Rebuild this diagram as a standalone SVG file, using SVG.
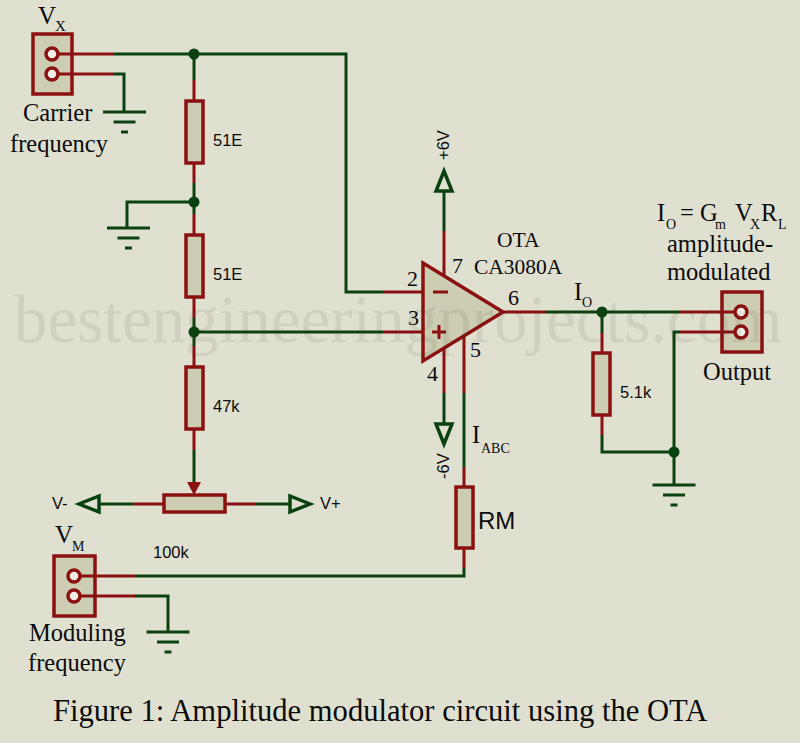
<svg xmlns="http://www.w3.org/2000/svg" width="800" height="743" viewBox="0 0 800 743">
<style>
.g{fill:none;stroke:#0a420f;stroke-width:3}
.r{fill:none;stroke:#8b1010;stroke-width:3}
.b{fill:#cdcdb4;stroke:#8b1010;stroke-width:3.5}
.p{fill:#eeeee4;stroke:#8b1010;stroke-width:3.5}
.a{fill:none;stroke:#0a420f;stroke-width:3.5;stroke-linejoin:miter}
.j{fill:#0a420f}
text{fill:#0b0b0b}
.s{font-family:"Liberation Serif",serif;font-size:24.5px}
.n{font-family:"Liberation Serif",serif;font-size:22px}
.u{font-family:"Liberation Serif",serif;font-size:14px}
.v{font-family:"Liberation Sans",sans-serif;font-size:16.5px}
.o{font-family:"Liberation Serif",serif;font-size:21.5px}
</style>
<defs>
<g id="gnd"><path class="g" d="M-21.500 0H21.500M-11 10H11M-3.500 20H3.500"/></g>
</defs>
<rect width="800" height="743" fill="#e0e0d1"/>
<g id="connectors">
<path class="g" d="M114 54H346V292H383M114 74H124V112"/>
<path class="g" d="M194 54V80M194 183V214M194 202H127V228M194 318V346M383 332H194"/>
<path class="r" d="M194 80V101M194 163V183M194 214V235M194 297V318M194 346V367M194 429V450M383 292H423M383 332H423"/>
<path class="g" d="M194 450V482"/>
<path d="M187 482H201L194 495Z" fill="#8b1010"/>
<path class="g" d="M99 504H133M256 504H290"/>
<path class="r" d="M133 504H163M225 504H256"/>
<path class="r" d="M444 276V231M444 349V393M464 337V393M464 467V487M464 548V568M504 312H545"/>
<path class="g" d="M444 231V191M444 393V423M464 393V467M464 568V576H135M135 596H168V632M545 312H680M602 312V333M602 435V452H674M680 332H674V485"/>
<path class="r" d="M602 333V353M602 415V435"/>
</g>
<g id="vx-connector">
<rect class="b" x="33" y="34" width="39" height="60"/>
<path class="r" d="M58 54H114M58 74H114"/>
<circle class="p" cx="52" cy="54" r="6"/><circle class="p" cx="52" cy="74" r="6"/>
<text class="s" x="38" y="24" style="font-size:25px">V</text><text class="u" x="55" y="31" style="font-size:15px">X</text>
<text class="s" x="23" y="121">Carrier</text>
<text class="s" x="10" y="152">frequency</text>
</g>
<g id="gnd-1"><use href="#gnd" x="124.500" y="112"/></g>
<g id="gnd-2"><use href="#gnd" x="128.500" y="228"/></g>
<g id="gnd-3"><use href="#gnd" x="168" y="632"/></g>
<g id="gnd-4"><use href="#gnd" x="674" y="485"/></g>
<g id="r1"><rect class="b" x="186" y="101" width="17" height="62"/><text class="v" x="213" y="146">51E</text></g>
<g id="r2"><rect class="b" x="186" y="235" width="17" height="62"/><text class="v" x="213" y="280">51E</text></g>
<g id="r3"><rect class="b" x="186" y="367" width="17" height="62"/><text class="v" x="213" y="412">47k</text></g>
<g id="pot"><rect class="b" x="164" y="495" width="61" height="17"/><text class="v" x="153" y="558">100k</text></g>
<g id="v-minus"><path class="a" d="M99 496V512L79 504Z"/><text class="v" x="52" y="509">V-</text></g>
<g id="v-plus"><path class="a" d="M290 496V512L310 504Z"/><text class="v" x="320" y="509">V+</text></g>
<g id="vm-connector">
<rect class="b" x="54" y="556" width="41" height="60"/>
<path class="r" d="M80 576H135M80 596H135"/>
<circle class="p" cx="74" cy="576" r="6"/><circle class="p" cx="74" cy="596" r="6"/>
<text class="s" x="55" y="543" style="font-size:25px">V</text><text class="u" x="72" y="551">M</text>
<text class="s" x="29" y="641">Moduling</text>
<text class="s" x="28" y="671">frequency</text>
</g>
<g id="rm"><rect class="b" x="456" y="487" width="17" height="61"/><text x="478" y="529" font-family="Liberation Sans,sans-serif" font-size="24">RM</text></g>
<g id="ota">
<path d="M423 263L503 312L423 361Z" fill="#cdcdb4" stroke="#8b1010" stroke-width="3.500"/>
<path class="r" d="M433 292H448M439 325V339M432 332H446"/>
<text class="n" x="407" y="286">2</text><text class="n" x="408" y="325">3</text>
<text class="n" x="452" y="273">7</text><text class="n" x="508" y="305">6</text>
<text class="n" x="470" y="357">5</text><text class="n" x="427" y="381">4</text>
<text class="o" x="497" y="247">OTA</text>
<text class="o" x="474" y="274">CA3080A</text>
</g>
<g id="plus6v"><path class="a" d="M436 191H452L444 171Z"/><text class="v" transform="translate(449 160) rotate(-90)">+6V</text></g>
<g id="minus6v"><path class="a" d="M436 424H452L444 444Z"/><text class="v" transform="translate(449 479) rotate(-90)">-6V</text></g>
<g id="iabc"><text class="s" x="472" y="443">I</text><text class="u" x="481" y="453">ABC</text></g>
<g id="io"><text class="s" x="574" y="300">I</text><text class="u" x="582" y="307">O</text></g>
<g id="r5"><rect class="b" x="593" y="353" width="17" height="62"/><text class="v" x="620" y="398">5.1k</text></g>
<g id="output">
<rect class="b" x="722" y="292" width="40" height="60"/>
<path class="r" d="M680 312H735M680 332H735"/>
<circle class="p" cx="741" cy="312" r="6"/><circle class="p" cx="741" cy="332" r="6"/>
<text class="s" x="703" y="380">Output</text>
<text class="s" x="667" y="280">modulated</text>
<text class="s" x="667" y="252">amplitude-</text>
<text class="s" x="657" y="221">I</text><text class="u" x="666" y="229">O</text>
<text class="s" x="680" y="221">= G</text><text class="u" x="715" y="229">m</text>
<text class="s" x="735" y="221">V</text><text class="u" x="750" y="229">X</text><text class="s" x="761" y="221">R</text><text class="u" x="778" y="229">L</text>
</g>
<text id="caption" x="53" y="721" font-family="Liberation Serif,serif" font-size="30.600">Figure 1: Amplitude modulator circuit using the OTA</text>
<g id="junctions" class="j">
<circle cx="194" cy="54" r="5.500"/><circle cx="194" cy="202" r="5.500"/><circle cx="194" cy="332" r="5.500"/><circle cx="602" cy="312" r="5.500"/><circle cx="674" cy="452" r="5.500"/>
</g>
<text id="watermark" x="14" y="342" font-family="Liberation Serif,serif" font-size="67" style="fill:#3a3a20;fill-opacity:.09">bestengineeringprojects.com</text>
</svg>
